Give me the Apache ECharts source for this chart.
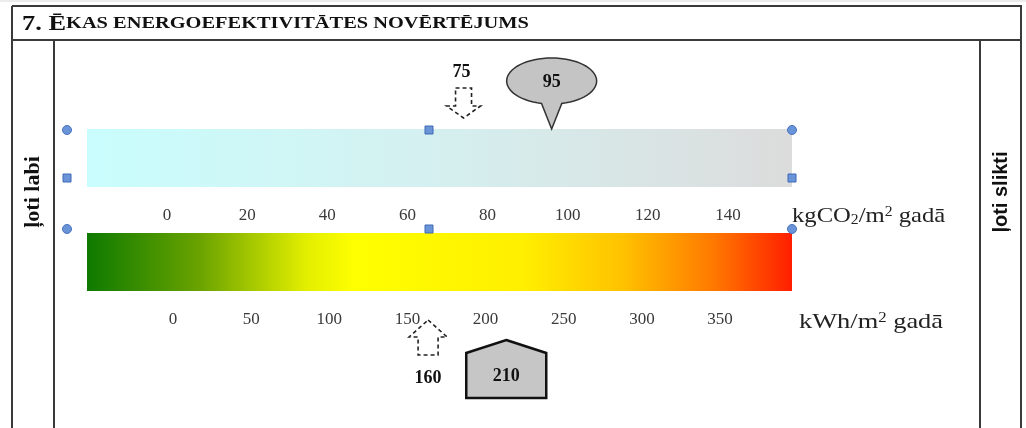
<!DOCTYPE html>
<html>
<head>
<meta charset="utf-8">
<script src="https://cdn.jsdelivr.net/npm/echarts@6/dist/echarts.min.js"></script>
<style>html,body{margin:0;padding:0;background:#fff}#c{width:1026px;height:428px}</style>
</head>
<body>
<div id="c"></div>
<script>
// ---- data ----
const titleText = ['7. Ē', 'KAS ENERGOEFEKTIVITĀTES NOVĒRTĒJUMS'];
const leftLabel = 'ļoti labi';
const rightLabel = 'ļoti slikti';
// CO2 scale (kgCO2/m2 gadā)
const co2Range = [-20, 156];
const co2TickStep = 20;
const co2TickMax = 140;
const co2Reference = 75;   // dashed arrow
const co2Actual = 95;      // callout
// Energy scale (kWh/m2 gadā)
const energyRange = [-55, 396];
const energyTickMax = 350;
const energyReference = 160; // dashed arrow
const energyActual = 210;    // house marker

const chart = echarts.init(document.getElementById('c'), null, {renderer: 'canvas'});

const serif = '"Liberation Serif", "Times New Roman", serif';
const sans = '"Liberation Sans", Arial, sans-serif';
const LINE = '#3a3a3a';

function barItem(colorStops) {
  return function (params, api) {
    const p0 = api.coord([api.value(0), 1]);
    const p1 = api.coord([api.value(1), 0]);
    return {
      type: 'rect',
      shape: {x: p0[0], y: p0[1], width: p1[0] - p0[0], height: p1[1] - p0[1]},
      style: {fill: new echarts.graphic.LinearGradient(0, 0, 1, 0, colorStops)}
    };
  };
}

function downArrow(params, api) {
  const p = api.coord([api.value(0), 1]);
  const x = p[0] - 4, yt = p[1];
  const tip = yt - 11;
  return {
    type: 'group',
    children: [
      {type: 'polygon', shape: {points: [
        [x - 8, tip - 30], [x + 8, tip - 30], [x + 8, tip - 12], [x + 17, tip - 12],
        [x, tip], [x - 17, tip - 12], [x - 8, tip - 12]]},
        style: {fill: 'none', stroke: '#222', lineWidth: 1.6, lineDash: [4, 3]}},
      {type: 'text', x: x - 2, y: tip - 46, style: {text: String(api.value(0)),
        font: 'bold 18px ' + serif, fill: '#111', align: 'center', verticalAlign: 'middle'}}
    ]
  };
}

function callout(params, api) {
  const p = api.coord([api.value(0), 1]);
  const tx = p[0] + 4, ty = p[1];
  const cx = tx, cy = ty - 48, rx = 45, ry = 23;
  const pts = [];
  const a0 = (90 + 13) * Math.PI / 180, a1 = (90 - 13 + 360) * Math.PI / 180;
  for (let i = 0; i <= 60; i++) {
    const a = a0 + (a1 - a0) * i / 60;
    pts.push([cx + rx * Math.cos(a), cy + ry * Math.sin(a)]);
  }
  pts.push([tx, ty]);
  return {
    type: 'group',
    children: [
      {type: 'polygon', shape: {points: pts},
        style: {fill: '#c4c4c4', stroke: '#333', lineWidth: 1.5}},
      {type: 'text', x: cx, y: cy + 1, style: {text: String(api.value(0)),
        font: 'bold 18px ' + serif, fill: '#111', align: 'center', verticalAlign: 'middle'}}
    ]
  };
}

function upArrow(params, api) {
  const p = api.coord([api.value(0), 0]);
  const x = p[0] + 5, yb = p[1];
  const tip = yb + 29;
  return {
    type: 'group',
    children: [
      {type: 'polygon', shape: {points: [
        [x, tip], [x + 19, tip + 17], [x + 10, tip + 17], [x + 10, tip + 35],
        [x - 10, tip + 35], [x - 10, tip + 17], [x - 19, tip + 17]]},
        style: {fill: 'none', stroke: '#222', lineWidth: 1.6, lineDash: [4, 3]}},
      {type: 'text', x: x, y: tip + 58, style: {text: String(api.value(0)),
        font: 'bold 18px ' + serif, fill: '#111', align: 'center', verticalAlign: 'middle'}}
    ]
  };
}

function house(params, api) {
  const p = api.coord([api.value(0), 0]);
  const x = p[0] + 5, yb = p[1];
  const peak = yb + 49, eave = yb + 62, bottom = yb + 107, hw = 40;
  return {
    type: 'group',
    children: [
      {type: 'polygon', shape: {points: [[x, peak], [x + hw, eave], [x + hw, bottom], [x - hw, bottom], [x - hw, eave]]},
        style: {fill: '#c6c6c6', stroke: '#111', lineWidth: 2.5}},
      {type: 'text', x: x, y: (eave + bottom) / 2 + 1, style: {text: String(api.value(0)),
        font: 'bold 18px ' + serif, fill: '#111', align: 'center', verticalAlign: 'middle'}}
    ]
  };
}

const axisCommon = {
  type: 'value',
  axisLine: {show: false}, axisTick: {show: false}, splitLine: {show: false},
  position: 'bottom'
};

function handle(kind, x, y) {
  if (kind === 'c') {
    return {type: 'circle', shape: {cx: x, cy: y, r: 4.5}, z: 100,
      style: {fill: '#6a94d8', stroke: '#4a74bf', lineWidth: 1}};
  }
  return {type: 'rect', shape: {x: x - 4, y: y - 4, width: 8, height: 8}, z: 100,
    style: {fill: '#6a94d8', stroke: '#3f68b3', lineWidth: 1}};
}

const option = {
  animation: false,
  backgroundColor: '#ffffff',
  grid: [
    {left: 87, width: 705, top: 129, height: 58},
    {left: 87, width: 705, top: 233, height: 58}
  ],
  xAxis: [
    Object.assign({}, axisCommon, {gridIndex: 0, min: co2Range[0], max: co2Range[1], interval: co2TickStep,
      axisLabel: {margin: 20, color: '#3a3a3a', fontFamily: serif, fontSize: 17,
        formatter: v => (v >= 0 && v <= co2TickMax) ? String(v) : ''}}),
    Object.assign({}, axisCommon, {gridIndex: 1, min: energyRange[0], max: energyRange[1], splitNumber: 9,
      axisLabel: {margin: 20, color: '#3a3a3a', fontFamily: serif, fontSize: 17,
        formatter: v => (v >= 0 && v <= energyTickMax) ? String(v) : ''}})
  ],
  yAxis: [
    {type: 'value', gridIndex: 0, min: 0, max: 1, show: false},
    {type: 'value', gridIndex: 1, min: 0, max: 1, show: false}
  ],
  series: [
    {type: 'custom', xAxisIndex: 0, yAxisIndex: 0, silent: true, clip: false,
      data: [[co2Range[0], co2Range[1]]],
      renderItem: barItem([{offset: 0, color: '#c9fdfd'}, {offset: 0.45, color: '#d4f1f1'}, {offset: 1, color: '#dcdcdc'}])},
    {type: 'custom', xAxisIndex: 1, yAxisIndex: 1, silent: true, clip: false,
      data: [[energyRange[0], energyRange[1]]],
      renderItem: barItem([
        {offset: 0, color: '#0e7a00'}, {offset: 0.16, color: '#6aa300'}, {offset: 0.31, color: '#e2ee00'},
        {offset: 0.38, color: '#ffff00'}, {offset: 0.62, color: '#ffef00'}, {offset: 0.76, color: '#ffc200'},
        {offset: 0.89, color: '#ff7800'}, {offset: 1, color: '#ff1e00'}])},
    {type: 'custom', xAxisIndex: 0, yAxisIndex: 0, clip: false, z: 5, data: [[co2Reference]], renderItem: downArrow},
    {type: 'custom', xAxisIndex: 0, yAxisIndex: 0, clip: false, z: 5, data: [[co2Actual]], renderItem: callout},
    {type: 'custom', xAxisIndex: 1, yAxisIndex: 1, clip: false, z: 5, data: [[energyReference]], renderItem: upArrow},
    {type: 'custom', xAxisIndex: 1, yAxisIndex: 1, clip: false, z: 5, data: [[energyActual]], renderItem: house}
  ],
  graphic: [
    // table frame
    {type: 'line', shape: {x1: 0, y1: 1, x2: 1026, y2: 1}, style: {stroke: '#d8d8d8', lineWidth: 1}},
    {type: 'line', shape: {x1: 12, y1: 6, x2: 1022, y2: 6}, style: {stroke: LINE, lineWidth: 2}},
    {type: 'line', shape: {x1: 12, y1: 40, x2: 1022, y2: 40}, style: {stroke: LINE, lineWidth: 2}},
    {type: 'line', shape: {x1: 12, y1: 6, x2: 12, y2: 428}, style: {stroke: LINE, lineWidth: 2}},
    {type: 'line', shape: {x1: 54, y1: 40, x2: 54, y2: 428}, style: {stroke: LINE, lineWidth: 2}},
    {type: 'line', shape: {x1: 980, y1: 40, x2: 980, y2: 428}, style: {stroke: LINE, lineWidth: 2}},
    {type: 'line', shape: {x1: 1021, y1: 6, x2: 1021, y2: 428}, style: {stroke: LINE, lineWidth: 2}},
    // title
    {type: 'text', x: 22, y: 24, scaleX: 1.2, style: {
      text: '{a|' + titleText[0] + '}{b|' + titleText[1] + '}', verticalAlign: 'middle',
      rich: {
        a: {font: 'bold 22px ' + serif, fill: '#111'},
        b: {font: 'bold 17px ' + serif, fill: '#111'}
      }, fill: '#111'}},
    // side labels
    {type: 'text', x: 33, y: 192, rotation: Math.PI / 2, style: {text: leftLabel,
      font: 'bold 22px ' + serif, fill: '#111', align: 'center', verticalAlign: 'middle'}},
    {type: 'text', x: 1001, y: 192, rotation: Math.PI / 2, style: {text: rightLabel,
      font: 'bold 20px ' + sans, fill: '#111', align: 'center', verticalAlign: 'middle'}},
    // units
    {type: 'text', x: 792, y: 216, scaleX: 1.12, style: {
      text: '{n|kgCO}{s|2}{n|/m}{p|2}{n| gadā}', verticalAlign: 'middle',
      rich: {
        n: {font: '22px ' + serif, fill: '#222'},
        s: {font: '14px ' + serif, fill: '#222', verticalAlign: 'bottom', padding: [7, 0, 0, 0]},
        p: {font: '14px ' + serif, fill: '#222', verticalAlign: 'top', padding: [0, 0, 3, 0]}
      }}},
    {type: 'text', x: 799, y: 322, scaleX: 1.2, style: {
      text: '{n|kWh/m}{p|2}{n| gadā}', verticalAlign: 'middle',
      rich: {
        n: {font: '22px ' + serif, fill: '#222'},
        p: {font: '14px ' + serif, fill: '#222', verticalAlign: 'top', padding: [0, 0, 3, 0]}
      }}},
    // selection handles
    handle('c', 67, 130), handle('r', 429, 130), handle('c', 792, 130),
    handle('r', 67, 178), handle('r', 792, 178),
    handle('c', 67, 229), handle('r', 429, 229), handle('c', 792, 229)
  ]
};
chart.setOption(option);
</script>
</body>
</html>
